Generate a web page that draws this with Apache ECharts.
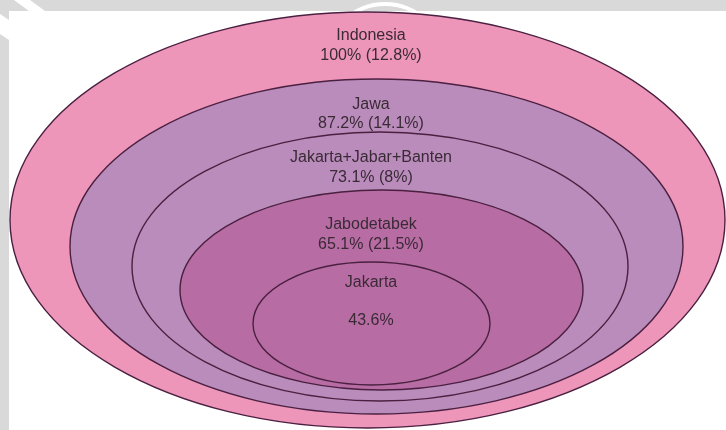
<!DOCTYPE html>
<html>
<head>
<meta charset="utf-8">
<script src="https://cdn.jsdelivr.net/npm/echarts@6/dist/echarts.min.js"></script>
<style>
html,body{margin:0;padding:0;background:#fff;}
#chart{width:726px;height:430px;}
</style>
</head>
<body>
<div id="chart"></div>
<script>
// ---- data ----
var regions = ["Indonesia", "Jawa", "Jakarta+Jabar+Banten", "Jabodetabek", "Jakarta"];
var shares = ["100%", "87.2%", "73.1%", "65.1%", "43.6%"];
var subShares = ["12.8%", "14.1%", "8%", "21.5%", null];

// ---- layout (chart space) ----
var ellCx = [367.5, 376.5, 380, 381.5, 371.5];
var ellCy = [220, 246.5, 266.5, 290, 323.5];
var ellRx = [357.5, 306.5, 248, 201.5, 118.5];
var ellRy = [208, 167.5, 134.5, 100, 61.5];
var nameY = [36, 105, 158, 225, 283];
var valueY = [56, 124, 178, 245, 321];
var labelX = 371;
var fills = ["#EE95BA", "#B98CBB", "#B98CBB", "#B86CA4", "#B86CA4"];

var seriesData = regions.map(function (r, i) {
  return [ellCx[i], ellCy[i], ellRx[i], ellRy[i], i];
});

var chart = echarts.init(document.getElementById('chart'), null, {renderer: 'canvas'});
var FONT = '16px "Liberation Sans", Arial, sans-serif';

chart.setOption({
  animation: false,
  backgroundColor: '#ffffff',
  grid: {left: 0, right: 0, top: 0, bottom: 0},
  xAxis: {type: 'value', min: 0, max: 726, show: false},
  yAxis: {type: 'value', min: 0, max: 430, inverse: true, show: false},
  graphic: [
    {type: 'rect', z: -10, shape: {x: 0, y: 0, width: 726, height: 11}, style: {fill: '#D9D9D9'}},
    {type: 'rect', z: -10, shape: {x: 0, y: 0, width: 9, height: 430}, style: {fill: '#D9D9D9'}},
    {type: 'polygon', z: -9, shape: {points: [[14, 0], [30, 0], [45, 11], [29, 11]]}, style: {fill: '#ffffff'}},
    {type: 'polygon', z: -9, shape: {points: [[0, 14], [9, 20], [9, 40], [0, 34]]}, style: {fill: '#ffffff'}},
    {type: 'circle', z: -9, shape: {cx: 385, cy: 62, r: 58}, style: {fill: 'none', stroke: '#ffffff', lineWidth: 4}}
  ],
  series: [{
    type: 'custom',
    coordinateSystem: 'cartesian2d',
    clip: false,
    data: seriesData,
    renderItem: function (params, api) {
      var i = api.value(4);
      var c = api.coord([api.value(0), api.value(1)]);
      var s = api.size([api.value(2), api.value(3)]);
      var namePt = api.coord([labelX, nameY[i]]);
      var valPt = api.coord([labelX, valueY[i]]);
      var valText = shares[i] + (subShares[i] ? ' (' + subShares[i] + ')' : '');
      return {
        type: 'group',
        children: [
          {
            type: 'ellipse',
            shape: {cx: c[0], cy: c[1], rx: s[0], ry: s[1]},
            style: {fill: fills[i], stroke: '#4A2040', lineWidth: 1.4}
          },
          {
            type: 'text',
            style: {x: namePt[0], y: namePt[1], text: regions[i], font: FONT, fill: '#3A2A36', align: 'center', verticalAlign: 'middle'}
          },
          {
            type: 'text',
            style: {x: valPt[0], y: valPt[1], text: valText, font: FONT, fill: '#3A2A36', align: 'center', verticalAlign: 'middle'}
          }
        ]
      };
    }
  }]
});
</script>
</body>
</html>
